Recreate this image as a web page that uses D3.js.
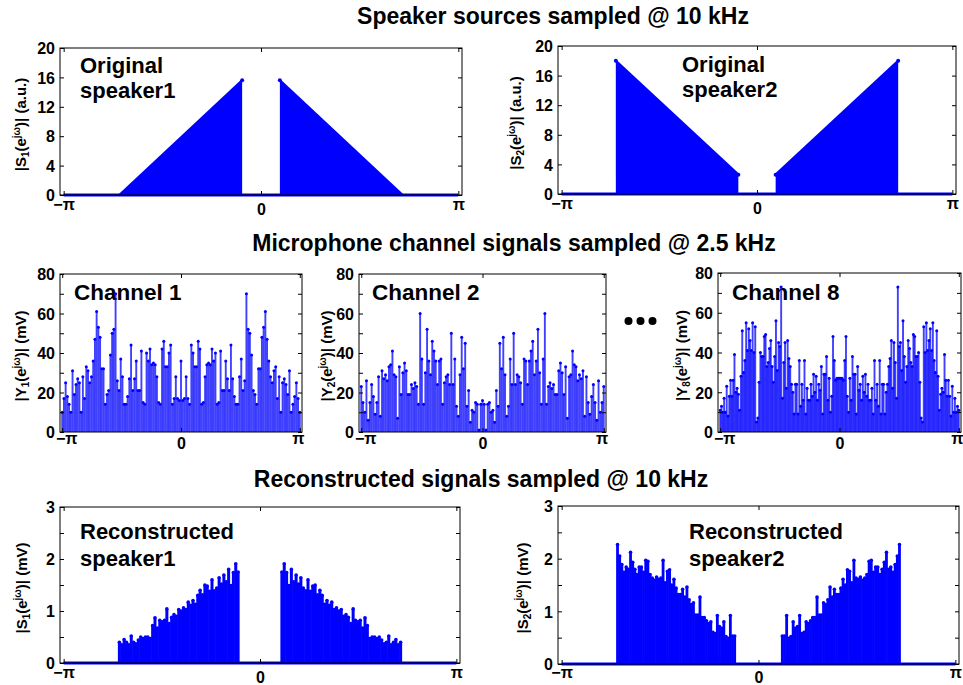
<!DOCTYPE html>
<html>
<head>
<meta charset="utf-8">
<script src="https://cdn.jsdelivr.net/npm/d3@7.9.0/dist/d3.min.js"></script>
<style>
  body { margin: 0; background: #fff; }
  svg { display: block; font-family: "Liberation Sans", Arial, Helvetica, sans-serif; font-weight: bold; }
</style>
</head>
<body>
<svg id="fig" width="963" height="685"></svg>
<script>
const PI = Math.PI;

// ---------- data ----------
const xTickValues = [-PI, 0, PI];
const xTickLabels = ["\u2212\u03c0", "0", "\u03c0"];

// original speakers: band edges (rad) and magnitude at the edges (a.u.)
const s1Bands = [[-2.25, -0.30], [0.30, 2.25]];
const s1Mags  = [[0, 15.6], [15.6, 0]];
const s2Bands = [[-2.27, -0.30], [0.30, 2.27]];
const s2Mags  = [[18, 2.6], [2.6, 18]];

// microphone channels, |Y(e^jw)| in mV, from -pi to pi
const ch1 = [10,17,25,18,14,10,31,19,24,27,25,10,28,17,33,31,25,28,36,47,61,53,48,32,32,14,19,21,39,50,52,70,26,21,37,28,14,14,18,27,44,21,27,36,21,21,41,15,14,40,36,42,34,35,34,28,15,14,42,46,33,33,40,44,14,17,28,17,16,
  36,
  16,17,28,17,14,44,40,33,33,46,42,14,15,28,34,35,34,42,36,40,14,15,41,21,21,36,27,21,44,27,18,14,14,28,37,21,26,70,52,50,39,21,19,14,32,32,48,53,61,47,36,28,25,31,33,17,28,10,25,27,24,19,31,10,14,18,25,17,10];

const ch2 = [23,15,10,26,6,15,24,18,9,15,28,8,31,27,29,26,33,34,41,29,28,7,33,19,30,35,31,19,19,24,22,25,23,14,60,37,14,30,52,36,29,46,41,36,24,36,37,14,25,28,29,24,50,24,37,13,8,29,48,32,45,13,21,5,11,10,15,14,1,14,
  16,
  14,1,14,15,10,11,5,21,13,45,32,48,29,8,13,37,24,50,24,29,28,25,14,37,36,24,36,41,46,29,36,52,30,14,37,60,14,23,25,22,24,19,19,31,35,30,19,33,7,28,29,41,34,33,26,29,27,31,8,28,15,9,18,24,15,6,26,10,15,23];

const ch8 = [11,13,10,17,10,23,8,18,26,18,26,39,20,22,19,11,28,51,30,36,55,41,52,46,41,55,40,53,5,7,25,40,38,38,48,49,33,35,42,46,33,25,38,56,31,45,43,73,17,35,45,22,46,37,33,24,20,9,24,24,9,36,13,24,16,36,9,22,16,16,24,18,29,20,28,16,24,21,33,9,29,29,38,16,27,10,18,48,36,26,27,27,
  27,
  27,27,26,36,48,18,10,27,16,38,29,29,9,33,21,24,16,28,20,29,18,24,16,16,22,9,36,16,24,13,36,9,24,24,9,20,24,33,37,46,22,45,35,17,73,43,45,31,56,38,25,33,46,42,35,33,49,48,38,38,40,25,7,5,53,40,55,41,46,52,41,55,36,30,51,28,11,19,22,20,39,26,18,26,18,8,23,10,17,10,13,11];

// reconstructed speakers, |S(e^jw)| in mV, band edges (rad) and stems within each band
const r1Bands = [[-2.25, -0.35], [0.35, 2.25]];
const r1Left  = [0.40,0.35,0.45,0.40,0.35,0.52,0.40,0.37,0.44,0.50,0.47,0.50,0.50,0.47,0.72,0.87,0.67,0.82,0.79,0.82,1.04,0.76,0.88,0.93,0.90,1.03,1.00,1.06,1.03,1.17,1.11,1.20,1.13,1.30,1.40,1.31,1.50,1.48,1.38,1.60,1.39,1.44,1.64,1.52,1.69,1.56,1.80,1.49,1.74,1.91,1.75];
const r1Right = [1.75,1.91,1.74,1.49,1.80,1.56,1.69,1.52,1.64,1.44,1.39,1.60,1.38,1.48,1.50,1.31,1.40,1.30,1.13,1.20,1.11,1.17,1.03,1.06,1.00,1.03,0.90,0.93,0.88,0.76,1.04,0.82,0.79,0.82,0.67,0.87,0.72,0.47,0.50,0.50,0.47,0.50,0.44,0.37,0.40,0.52,0.35,0.40,0.45,0.35,0.40];
const r2Bands = [[-2.25, -0.38], [0.38, 2.25]];
const r2Left  = [2.27,2.05,1.89,1.74,1.84,1.80,2.12,1.93,1.80,1.70,1.84,1.84,1.74,1.97,1.95,1.70,1.63,1.59,1.65,1.61,1.63,1.97,1.54,1.76,1.79,1.50,1.61,1.44,1.32,1.32,1.42,1.27,1.46,1.22,1.13,1.16,0.93,0.93,1.27,0.88,0.88,0.82,0.77,0.80,0.60,0.58,0.92,0.71,0.68,0.80,0.52,0.49,0.92,0.53,0.53];
const r2Right = [0.53,0.53,0.92,0.49,0.52,0.80,0.68,0.71,0.92,0.58,0.60,0.80,0.77,0.82,0.88,0.88,1.27,0.93,0.93,1.16,1.13,1.22,1.46,1.27,1.42,1.32,1.32,1.44,1.61,1.50,1.79,1.76,1.54,1.97,1.63,1.61,1.65,1.59,1.63,1.70,1.95,1.97,1.74,1.84,1.84,1.70,1.80,1.93,2.12,1.80,1.84,1.74,1.89,2.05,2.27];

const titles = [
  "Speaker sources sampled @ 10 kHz",
  "Microphone channel signals sampled @ 2.5 kHz",
  "Reconstructed signals sampled @ 10 kHz"
];

// ---------- layout ----------
const BLUE = "#0000ff";
const XDOM = [-3.2, 3.2];
const svg = d3.select("#fig");

const layout = {
  s1: {x0: 60,  x1: 462, y0: 48,  y1: 195, yl: 21,  lab0: 20,   labPi: 15,   piShift: 0},
  s2: {x0: 558, x1: 956, y0: 46,  y1: 194, yl: 516, lab0: 20,   labPi: 15,   piShift: 0},
  c1: {x0: 60,  x1: 302, y0: 274, y1: 432, yl: 21,  lab0: 16.5, labPi: 11.5, piShift: 4},
  c2: {x0: 359, x1: 606, y0: 274, y1: 432, yl: 327, lab0: 16.5, labPi: 11.5, piShift: 4},
  c8: {x0: 718, x1: 961, y0: 273, y1: 432, yl: 682, lab0: 16.5, labPi: 11.5, piShift: 4},
  r1: {x0: 60,  x1: 460, y0: 507, y1: 663, yl: 22,  lab0: 19.5, labPi: 14.5, piShift: 0},
  r2: {x0: 558, x1: 959, y0: 506, y1: 664, yl: 523, lab0: 19,   labPi: 14,   piShift: 0}
};

function makePanel(box, yMax, yMajor, yStep) {
  const x = d3.scaleLinear().domain(XDOM).range([box.x0, box.x1]);
  const y = d3.scaleLinear().domain([0, yMax]).range([box.y1, box.y0]);
  const g = svg.append("g");
  const textLayer = g.append("g");
  const marks = g.append("g");
  const axes = g.append("g");
  const yAll = d3.range(0, yMax + yStep / 2, yStep);

  axes.append("rect")
    .attr("x", box.x0).attr("y", box.y0)
    .attr("width", box.x1 - box.x0).attr("height", box.y1 - box.y0)
    .attr("fill", "none").attr("stroke", "#000").attr("stroke-width", 1);

  const left = axes.append("g").attr("transform", `translate(${box.x0},0)`)
    .call(d3.axisLeft(y).tickValues(yAll).tickSize(-4).tickPadding(5)
      .tickFormat(d => yMajor.includes(d) ? d : ""));
  axes.append("g").attr("transform", `translate(${box.x1},0)`)
    .call(d3.axisRight(y).tickValues(yAll).tickSize(-4).tickFormat(""));
  const bottom = axes.append("g").attr("transform", `translate(0,${box.y1})`)
    .call(d3.axisBottom(x).tickValues(xTickValues).tickSize(-4)
      .tickFormat((d, i) => xTickLabels[i]));
  axes.append("g").attr("transform", `translate(0,${box.y0})`)
    .call(d3.axisTop(x).tickValues(xTickValues).tickSize(-4).tickFormat(""));

  axes.selectAll(".domain").remove();
  axes.selectAll(".tick line").attr("stroke", "#000");
  axes.selectAll("g").attr("font-family", null).attr("font-size", null);
  axes.selectAll(".tick text").attr("fill", "#000").attr("font-size", 16);
  left.selectAll(".tick text").attr("dy", "0.36em");
  bottom.selectAll(".tick text")
    .attr("dy", 0)
    .attr("x", (d, i) => i === 0 ? box.piShift : (i === 2 ? -box.piShift / 2 : 0))
    .attr("y", (d, i) => xTickLabels[i] === "0" ? box.lab0 : box.labPi);

  return {x, y, g, marks, textLayer, box};
}

function yLabel(p, letter, sub, unit) {
  const cy = (p.box.y0 + p.box.y1) / 2 + 3;
  const t = p.textLayer.append("text")
    .attr("transform", `translate(${p.box.yl},${cy}) rotate(-90)`)
    .attr("text-anchor", "middle").attr("dy", "0.35em")
    .attr("font-size", 15);
  t.append("tspan").text("|" + letter);
  t.append("tspan").attr("font-size", 10).attr("dy", 3).text(sub);
  t.append("tspan").attr("dy", -3).text("(e");
  t.append("tspan").attr("font-size", 10).attr("dy", -6).text("j\u03c9");
  t.append("tspan").attr("dy", 6).text(")| " + unit);
}

function panelText(p, lines, tx, ty, size, gap) {
  p.textLayer.selectAll(null).data(lines).join("text")
    .attr("x", tx).attr("y", (d, i) => ty + i * gap)
    .attr("font-size", size).attr("fill", "#000")
    .text(d => d);
}

function baseline(p) {
  p.marks.append("line")
    .attr("x1", p.x(-PI)).attr("x2", p.x(PI))
    .attr("y1", p.y(0)).attr("y2", p.y(0))
    .attr("stroke", BLUE).attr("stroke-width", 3);
}

function drawBands(p, bands, mags) {
  baseline(p);
  const area = d3.area().x(d => p.x(d[0])).y0(p.y(0)).y1(d => p.y(d[1]));
  const line = d3.line().x(d => p.x(d[0])).y(d => p.y(d[1]));
  bands.forEach((b, k) => {
    const pts = d3.zip(b, mags[k]);
    p.marks.append("path").datum(pts).attr("d", area).attr("fill", BLUE);
    p.marks.append("path").datum(pts).attr("d", line)
      .attr("fill", "none").attr("stroke", BLUE).attr("stroke-width", 2.5);
    p.marks.selectAll(null).data(pts.filter(d => d[1] > 0)).join("circle")
      .attr("cx", d => p.x(d[0])).attr("cy", d => p.y(d[1]))
      .attr("r", 2).attr("fill", BLUE);
  });
}

function drawStems(p, vals, range, width, r, opacity) {
  const idx = d3.scaleLinear().domain([0, vals.length - 1]).range(range);
  const grp = p.marks.append("g");
  grp.selectAll("line").data(vals).join("line")
    .attr("x1", (d, i) => p.x(idx(i))).attr("x2", (d, i) => p.x(idx(i)))
    .attr("y1", p.y(0)).attr("y2", d => p.y(d))
    .attr("stroke", BLUE).attr("stroke-width", width).attr("stroke-opacity", opacity);
  grp.selectAll("circle").data(vals).join("circle")
    .attr("cx", (d, i) => p.x(idx(i))).attr("cy", d => p.y(d))
    .attr("r", r).attr("fill", BLUE);
}

// ---------- titles ----------
const titlePos = [[553, 24], [514, 251], [481, 487]];
svg.selectAll("text.title").data(titles).join("text")
  .attr("class", "title")
  .attr("x", (d, i) => titlePos[i][0]).attr("y", (d, i) => titlePos[i][1])
  .attr("text-anchor", "middle").attr("font-size", 23)
  .text(d => d);

// ---------- top row ----------
const pS1 = makePanel(layout.s1, 20, [0, 4, 8, 12, 16, 20], 4);
drawBands(pS1, s1Bands, s1Mags);
yLabel(pS1, "S", "1", "(a.u.)");
panelText(pS1, ["Original", "speaker1"], 80, 73, 22, 25);

const pS2 = makePanel(layout.s2, 20, [0, 4, 8, 12, 16, 20], 4);
drawBands(pS2, s2Bands, s2Mags);
yLabel(pS2, "S", "2", "(a.u.)");
panelText(pS2, ["Original", "speaker2"], 682, 72, 22, 25);

// ---------- middle row ----------
const chans = [[layout.c1, ch1, "1"], [layout.c2, ch2, "2"], [layout.c8, ch8, "8"]];
const chLabelX = [74, 372, 732];
chans.forEach(([box, vals, n], k) => {
  const p = makePanel(box, 80, [0, 20, 40, 60, 80], 10);
  drawStems(p, vals, [-PI, PI], 1.9, 1.5, 0.75);
  yLabel(p, "Y", n, "(mV)");
  panelText(p, ["Channel " + n], chLabelX[k], 300, 22.5, 0);
});

svg.append("g").selectAll("circle").data([0, 1, 2]).join("circle")
  .attr("cx", d => 628.5 + d * 12).attr("cy", 321).attr("r", 4).attr("fill", "#000");

// ---------- bottom row ----------
const pR1 = makePanel(layout.r1, 3, [0, 1, 2, 3], 0.5);
baseline(pR1);
drawStems(pR1, r1Left, r1Bands[0], 3, 1.8, 1);
drawStems(pR1, r1Right, r1Bands[1], 3, 1.8, 1);
yLabel(pR1, "S", "1", "(mV)");
panelText(pR1, ["Reconstructed", "speaker1"], 80, 539, 22, 27);

const pR2 = makePanel(layout.r2, 3, [0, 1, 2, 3], 0.5);
baseline(pR2);
drawStems(pR2, r2Left, r2Bands[0], 2.8, 1.8, 1);
drawStems(pR2, r2Right, r2Bands[1], 2.8, 1.8, 1);
yLabel(pR2, "S", "2", "(mV)");
panelText(pR2, ["Reconstructed", "speaker2"], 689, 539, 22, 27);
</script>
</body>
</html>
